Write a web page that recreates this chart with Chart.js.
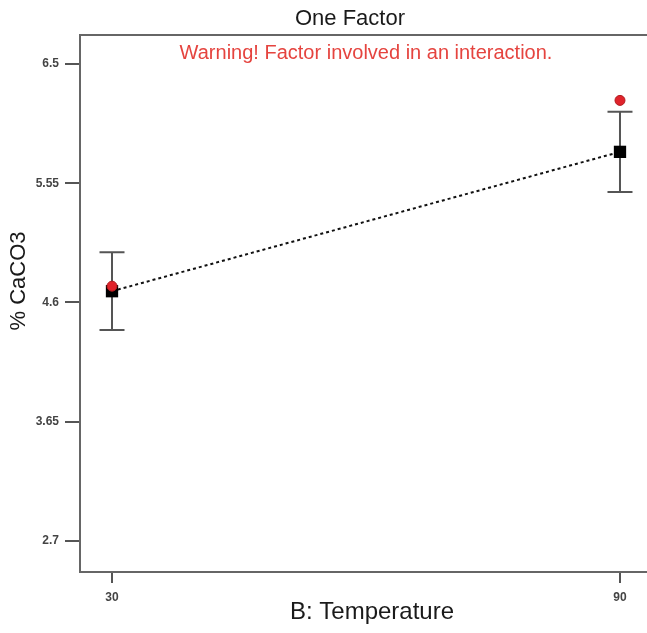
<!DOCTYPE html>
<html>
<head>
<meta charset="utf-8">
<script src="https://cdn.jsdelivr.net/npm/chart.js@4.4.1/dist/chart.umd.min.js"></script>
<style>
  html, body { margin: 0; padding: 0; background: #ffffff; }
  #wrap { width: 647px; height: 633px; position: relative; }
</style>
</head>
<body>
<div id="wrap"><canvas id="c" width="647" height="633"></canvas></div>
<script>
// Factor levels of B: Temperature
const temperatures = [30, 90];
// Predicted % CaCO3 at each level, with 95% CI bounds
const predicted = [4.69, 5.80];
const ciLow = [4.38, 5.48];
const ciHigh = [5.00, 6.12];
// Observed design points
const observed = [4.73, 6.21];
// Axis ticks
const yTicks = [2.7, 3.65, 4.6, 5.55, 6.5];
const xTicks = [30, 90];

const FONT = 'Liberation Sans, Arial, sans-serif';

const predPoints = temperatures.map((t, i) => ({ x: t, y: predicted[i] }));
const obsPoints = temperatures.map((t, i) => ({ x: t, y: observed[i] }));

// Error bars for the confidence interval of each prediction
const errorBars = {
  id: 'errorBars',
  beforeDatasetsDraw(chart) {
    const { ctx, scales: { x, y } } = chart;
    ctx.save();
    ctx.strokeStyle = '#555555';
    ctx.lineWidth = 2;
    temperatures.forEach((t, i) => {
      const px = x.getPixelForValue(t);
      const pLo = y.getPixelForValue(ciLow[i]);
      const pHi = y.getPixelForValue(ciHigh[i]);
      ctx.beginPath();
      ctx.moveTo(px, pLo); ctx.lineTo(px, pHi);
      ctx.moveTo(px - 12.5, pLo); ctx.lineTo(px + 12.5, pLo);
      ctx.moveTo(px - 12.5, pHi); ctx.lineTo(px + 12.5, pHi);
      ctx.stroke();
    });
    ctx.restore();
  }
};

// Frame top line, titles and the warning note
const decorations = {
  id: 'decorations',
  afterDraw(chart) {
    const { ctx, chartArea: a } = chart;
    ctx.save();
    ctx.strokeStyle = '#666666';
    ctx.lineWidth = 2;
    ctx.beginPath();
    ctx.moveTo(a.left - 1, a.top); ctx.lineTo(a.right + 2, a.top);
    ctx.stroke();

    ctx.textAlign = 'center';
    ctx.textBaseline = 'middle';
    ctx.fillStyle = '#1a1a1a';
    ctx.font = '22px ' + FONT;
    ctx.fillText('One Factor', 350, 19);

    ctx.fillStyle = '#e5443f';
    ctx.font = '20px ' + FONT;
    ctx.fillText('Warning! Factor involved in an interaction.', 366, 53);

    ctx.fillStyle = '#1a1a1a';
    ctx.font = '24px ' + FONT;
    ctx.fillText('B: Temperature', 372, 612);

    ctx.font = '22px ' + FONT;
    ctx.translate(19, 281);
    ctx.rotate(-Math.PI / 2);
    ctx.fillText('% CaCO3', 0, 0);
    ctx.restore();
  }
};

new Chart(document.getElementById('c'), {
  type: 'scatter',
  data: {
    datasets: [
      {
        label: 'Observed',
        data: obsPoints,
        order: 0,
        pointStyle: 'circle',
        pointRadius: 5,
        pointBackgroundColor: '#e0232b',
        pointBorderColor: '#b01c20',
        pointBorderWidth: 1,
        showLine: false
      },
      {
        label: 'Predicted',
        data: predPoints,
        order: 1,
        showLine: true,
        borderColor: '#111111',
        borderWidth: 2,
        borderDash: [3, 3],
        pointStyle: 'rect',
        pointRadius: 8.7,
        pointBackgroundColor: '#000000',
        pointBorderColor: '#000000',
        pointBorderWidth: 0
      }
    ]
  },
  options: {
    responsive: false,
    animation: false,
    layout: { autoPadding: false, padding: { top: 35, right: 0, left: 0, bottom: 0 } },
    plugins: { legend: { display: false }, tooltip: { enabled: false }, title: { display: false } },
    scales: {
      x: {
        type: 'linear',
        min: 26.22,
        max: 93.19,
        afterBuildTicks(s) { s.ticks = xTicks.map(v => ({ value: v })); },
        afterFit(s) { s.height = 61; },
        grid: { display: true, drawOnChartArea: false, drawTicks: true, tickLength: 11, color: '#555555', lineWidth: 2 },
        border: { display: true, color: '#666666', width: 2 },
        ticks: {
          color: '#444444',
          font: { family: FONT, size: 12, weight: 'bold' },
          padding: 7,
          maxRotation: 0,
          callback: v => String(v)
        }
      },
      y: {
        type: 'linear',
        min: 2.453,
        max: 6.731,
        afterBuildTicks(s) { s.ticks = yTicks.map(v => ({ value: v })); },
        afterFit(s) { s.width = 80; },
        grid: { display: true, drawOnChartArea: false, drawTicks: true, tickLength: 15, color: '#555555', lineWidth: 2 },
        border: { display: true, color: '#666666', width: 2 },
        ticks: {
          color: '#444444',
          font: { family: FONT, size: 12, weight: 'bold' },
          padding: 6,
          callback: v => String(v)
        }
      }
    }
  },
  plugins: [errorBars, decorations]
});
</script>
</body>
</html>
